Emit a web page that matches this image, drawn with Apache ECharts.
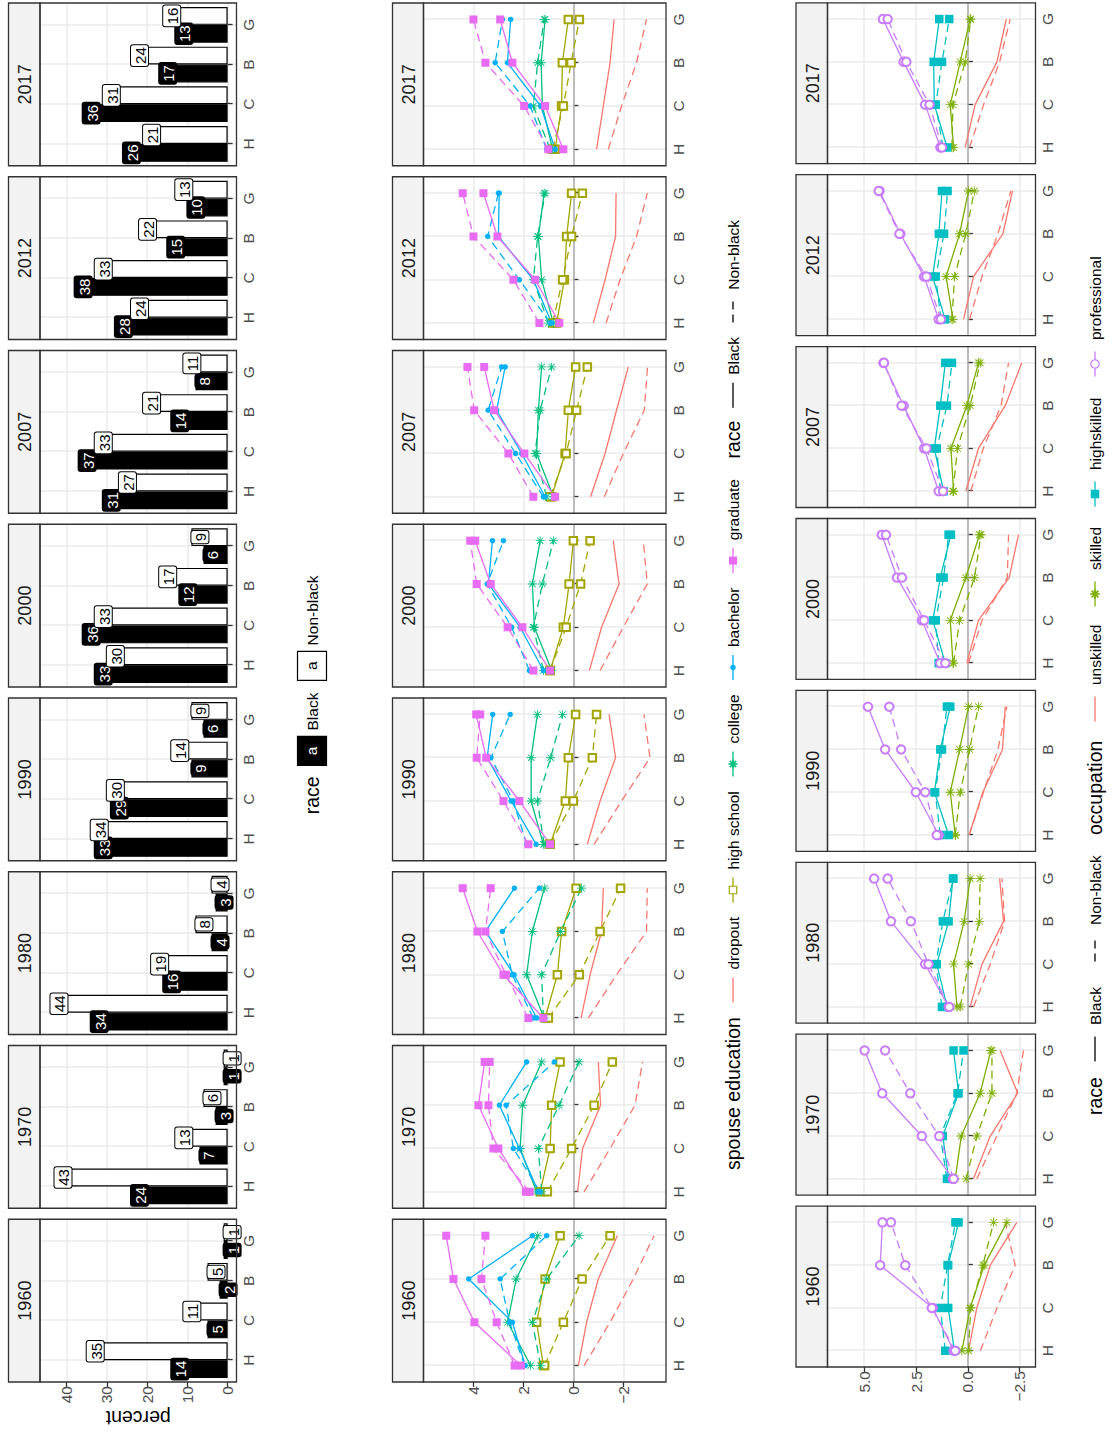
<!DOCTYPE html>
<html>
<head>
<meta charset="utf-8">
<script src="https://cdn.jsdelivr.net/npm/echarts@6/dist/echarts.min.js"></script>
<style>
  html, body { margin: 0; padding: 0; background: #ffffff; overflow: hidden; }
  #page { position: absolute; left: 0; top: 0; width: 1116px; height: 1438px; overflow: hidden; background: #ffffff; }
  /* the figure is laid out landscape and turned a quarter turn counter-clockwise */
  #chart { position: absolute; left: 0; top: 0; width: 1438px; height: 1116px;
           transform-origin: 0 0; transform: translate(0, 1438px) rotate(-90deg); }
</style>
</head>
<body>
<div id="page"><div id="chart"></div></div>
<script>
// ---------------------------------------------------------------- data
const years = ['1960', '1970', '1980', '1990', '2000', '2007', '2012', '2017'];
const categories = ['H', 'C', 'B', 'G'];
const raceNames = ['Black', 'Non-black'];

// spouse education shares in percent, one row per year, columns H C B G
const shareBlack = [
  [14, 5, 2, 1], [24, 7, 3, 1], [34, 16, 4, 3], [33, 29, 9, 6],
  [33, 36, 12, 6], [31, 37, 14, 8], [28, 38, 15, 10], [26, 36, 17, 13]
];
const shareNonBlack = [
  [35, 11, 5, 1], [43, 13, 6, 1], [44, 19, 8, 4], [34, 30, 14, 9],
  [30, 33, 17, 9], [27, 33, 21, 11], [24, 33, 22, 13], [21, 31, 24, 16]
];

// spouse education effects, one row per year, columns H C B G
const eduLevels = ['dropout', 'high school', 'college', 'bachelor', 'graduate'];
const eduDropoutBlack = [
  [-0.20, -0.53, -1.00, -1.76], [-0.17, -0.37, -1.09, -1.00], [-0.31, -0.67, -1.13, -1.20], [-0.56, -1.07, -1.69, -1.43],
  [-0.64, -1.13, -1.83, -1.60], [-0.69, -1.27, -1.73, -2.20], [-0.80, -1.27, -1.69, -1.71], [-0.93, -1.20, -1.47, -1.63]
];
const eduDropoutNonBlack = [
  [-0.43, -1.47, -2.40, -3.23], [-0.43, -1.47, -2.47, -2.77], [-0.60, -1.73, -2.93, -2.96], [-0.83, -1.93, -3.07, -2.83],
  [-1.07, -2.00, -2.96, -2.80], [-1.24, -2.00, -2.84, -2.97], [-1.31, -1.87, -2.53, -2.96], [-1.40, -1.93, -2.53, -2.93]
];
const eduHighSchoolBlack = [
  [1.20, 1.47, 1.13, 0.53], [1.33, 0.93, 0.87, 0.53], [1.13, 0.64, 0.47, -0.11], [0.93, 0.32, 0.20, -0.09],
  [0.93, 0.40, 0.17, 0.00], [0.87, 0.33, 0.20, -0.09], [0.67, 0.36, 0.27, 0.07], [0.73, 0.47, 0.44, 0.20]
];
const eduHighSchoolNonBlack = [
  [1.15, 0.40, -0.35, -1.47], [1.04, 0.07, -0.83, -1.56], [1.00, -0.24, -1.07, -1.89], [0.93, 0.00, -0.76, -0.93],
  [0.93, 0.29, -0.29, -0.67], [0.93, 0.29, -0.13, -0.56], [0.83, 0.43, 0.07, -0.36], [0.83, 0.40, 0.09, -0.24]
];
const eduCollegeBlack = [
  [1.71, 2.63, 2.29, 1.43], [1.47, 2.13, 2.03, 1.27], [1.17, 1.87, 1.64, 1.16], [1.20, 1.69, 1.69, 1.44],
  [0.87, 1.56, 1.64, 1.33], [0.80, 1.47, 1.40, 1.27], [0.80, 1.27, 1.40, 1.17], [0.83, 1.24, 1.29, 1.13]
];
const eduCollegeNonBlack = [
  [1.31, 1.64, 1.07, -0.23], [1.27, 1.40, 0.57, -0.23], [1.20, 1.27, 0.51, -0.33], [1.17, 1.44, 0.91, 0.43],
  [1.20, 1.60, 1.24, 0.80], [1.07, 1.53, 1.33, 0.87], [1.00, 1.60, 1.43, 1.13], [0.93, 1.60, 1.43, 1.17]
];
const eduBachelorBlack = [
  [1.93, 2.44, 4.19, 1.64], [1.40, 2.16, 2.96, 1.87], [1.47, 2.37, 3.52, 2.36], [1.49, 2.49, 3.45, 3.23],
  [1.20, 2.13, 3.40, 3.24], [1.13, 2.07, 3.07, 2.73], [0.87, 1.60, 3.00, 2.97], [0.73, 1.31, 2.64, 2.51]
];
const eduBachelorNonBlack = [
  [1.95, 2.55, 2.93, 1.07], [1.33, 2.40, 2.69, 0.76], [1.60, 2.45, 2.84, 1.36], [1.87, 2.40, 3.30, 2.53],
  [1.76, 2.47, 3.45, 2.80], [1.20, 2.31, 3.41, 2.87], [0.93, 2.16, 3.43, 3.00], [1.07, 1.73, 3.13, 2.84]
];
const eduGraduateBlack = [
  [2.10, 3.96, 4.80, 5.09], [1.90, 3.00, 3.80, 3.55], [1.20, 2.80, 3.84, 4.43], [0.93, 2.16, 3.49, 3.89],
  [0.93, 2.04, 3.31, 3.93], [0.73, 1.96, 3.17, 3.57], [0.56, 1.53, 3.04, 3.60], [0.40, 1.13, 2.44, 2.93]
];
const eduGraduateNonBlack = [
  [2.35, 3.07, 3.68, 3.52], [1.75, 3.20, 3.40, 3.35], [1.80, 2.70, 3.52, 3.31], [1.80, 2.80, 3.87, 3.73],
  [1.60, 2.63, 3.87, 4.13], [1.60, 2.60, 3.97, 4.24], [1.36, 2.40, 4.00, 4.43], [1.00, 1.97, 3.52, 4.00]
];

// occupation effects, one row per year, columns H C B G
const occLevels = ['unskilled', 'skilled', 'highskilled', 'professional'];
const occUnskilledBlack = [
  [-0.03, -0.43, -1.08, -2.36], [-0.27, -1.08, -2.40, -1.56], [-0.11, -0.68, -1.72, -1.53], [-0.06, -0.72, -1.67, -1.80],
  [0.05, -0.51, -1.99, -2.44], [0.10, -0.51, -1.80, -2.60], [0.21, -0.27, -1.69, -2.15], [0.13, -0.35, -1.40, -1.85]
];
const occUnskilledNonBlack = [
  [-0.60, -1.40, -2.28, -1.80], [-0.43, -1.40, -2.36, -2.68], [-0.27, -1.08, -1.77, -1.64], [-0.06, -0.75, -1.45, -1.88],
  [-0.03, -0.68, -1.90, -1.96], [-0.14, -0.74, -1.60, -1.96], [-0.08, -0.68, -1.45, -2.07], [-0.08, -0.76, -1.53, -2.04]
];
const occSkilledBlack = [
  [0.29, -0.11, -0.79, -1.88], [0.61, 0.32, -0.59, -1.11], [0.53, 0.69, 0.18, -0.11], [0.61, 0.85, 0.40, -0.03],
  [0.72, 0.85, 0.10, -0.56], [0.69, 0.82, 0.05, -0.51], [0.72, 1.05, 0.40, -0.03], [0.69, 0.85, 0.37, -0.11]
];
const occSkilledNonBlack = [
  [-0.03, -0.14, -0.72, -1.24], [0.08, -0.43, -1.16, -1.16], [0.37, -0.03, -0.55, -0.59], [0.61, 0.37, -0.08, -0.51],
  [0.69, 0.40, -0.32, -0.63], [0.72, 0.50, -0.11, -0.59], [0.77, 0.64, 0.10, -0.31], [0.77, 0.72, 0.13, -0.14]
];
const occHighskilledBlack = [
  [0.65, 0.95, 0.95, 0.45], [0.93, 1.21, 0.45, 0.69], [1.00, 1.50, 0.93, 0.72], [0.93, 1.61, 1.33, 0.85],
  [1.09, 1.69, 1.33, 0.82], [1.17, 1.62, 1.33, 1.09], [1.10, 1.70, 1.40, 1.25], [1.00, 1.62, 1.65, 1.38]
];
const occHighskilledNonBlack = [
  [1.09, 1.33, 0.98, 0.60], [1.01, 1.33, 0.50, 0.21], [1.25, 1.54, 1.21, 0.70], [1.33, 1.58, 1.25, 1.01],
  [1.41, 1.55, 1.17, 0.93], [1.33, 1.50, 1.01, 0.77], [1.30, 1.55, 1.15, 0.98], [1.20, 1.55, 1.25, 0.90]
];
const occProfessionalBlack = [
  [0.69, 1.69, 4.23, 4.12], [0.72, 2.22, 4.13, 4.98], [0.93, 2.06, 3.71, 4.52], [1.41, 2.51, 3.99, 4.82],
  [1.33, 2.22, 3.42, 4.15], [1.41, 2.11, 3.10, 4.07], [1.41, 2.11, 3.26, 4.26], [1.33, 2.06, 3.10, 4.10]
];
const occProfessionalNonBlack = [
  [0.61, 1.74, 3.02, 3.71], [0.69, 1.38, 2.78, 3.99], [0.90, 1.90, 2.75, 3.87], [1.50, 2.06, 3.22, 3.79],
  [1.09, 2.11, 3.18, 3.95], [1.20, 2.00, 3.20, 4.05], [1.30, 2.00, 3.30, 4.30], [1.25, 1.85, 2.97, 3.87]
];

// tick labels of the value axes
const pctTicks = [0, 10, 20, 30, 40];
const eduTicks = [-2, 0, 2, 4];
const occTicks = [-2.5, 0, 2.5, 5];

// ---------------------------------------------------------------- styling
const FONT = '"Liberation Sans", Arial, Helvetica, sans-serif';
// asterisk marker (plus and cross) built from four thin bars
const ASTERISK = 'M-1,-0.09L1,-0.09L1,0.09L-1,0.09Z' +
  'M-0.09,-1L0.09,-1L0.09,1L-0.09,1Z' +
  'M-0.77,-0.64L-0.64,-0.77L0.77,0.64L0.64,0.77Z' +
  'M-0.64,0.77L-0.77,0.64L0.64,-0.77L0.77,-0.64Z';

const eduSeriesData = [
  [eduDropoutBlack, eduDropoutNonBlack],
  [eduHighSchoolBlack, eduHighSchoolNonBlack],
  [eduCollegeBlack, eduCollegeNonBlack],
  [eduBachelorBlack, eduBachelorNonBlack],
  [eduGraduateBlack, eduGraduateNonBlack]
];
const eduMarks = [
  { color: '#F8766D', symbol: 'none', size: 0 },
  { color: '#A3A500', symbol: 'emptyRect', size: 7.5 },
  { color: '#00BF7D', symbol: 'asterisk', size: 9 },
  { color: '#00B0F6', symbol: 'circle', size: 5.5 },
  { color: '#E76BF3', symbol: 'rect', size: 8 }
];
const occSeriesData = [
  [occUnskilledBlack, occUnskilledNonBlack],
  [occSkilledBlack, occSkilledNonBlack],
  [occHighskilledBlack, occHighskilledNonBlack],
  [occProfessionalBlack, occProfessionalNonBlack]
];
const occMarks = [
  { color: '#F8766D', symbol: 'none', size: 0 },
  { color: '#7CAE00', symbol: 'asterisk', size: 9.5 },
  { color: '#00BFC4', symbol: 'rect', size: 8.5 },
  { color: '#C77CFF', symbol: 'emptyCircle', size: 8.5 }
];
const DASH = [8, 5];

// panel geometry of the three facet rows (landscape pixel coordinates)
const rowsLayout = [
  { stripTop: 8.5, top: 40, bottom: 236.5, left: 56, pitch: 173.75, width: 162.75, x: [0.45, 4.55], y: [-2.2, 46.6] },
  { stripTop: 392.5, top: 423.5, bottom: 666, left: 56, pitch: 173.75, width: 162.75, x: [0.62, 4.38], y: [-3.71, 6.0] },
  { stripTop: 796, top: 827.5, bottom: 1035.5, left: 71, pitch: 171.9, width: 160.9, x: [0.62, 4.38], y: [-3.26, 6.77] }
];

const minus = s => s.replace('-', '\u2212');
const fmtPct = v => String(v);
const fmtEdu = v => minus(String(v));
const fmtOcc = v => minus(v.toFixed(1));

const grids = [], xAxes = [], yAxes = [], series = [], graphics = [];

function text(x, y, str, size, color, align) {
  graphics.push({
    type: 'text', x: x, y: y, z: 110, silent: true,
    style: { text: str, fill: color || '#000000', fontSize: size, fontFamily: FONT,
             align: align || 'left', textAlign: align || 'left',
             verticalAlign: 'middle', textVerticalAlign: 'middle' }
  });
}

function addPanel(r, i, ticks, fmt, yName) {
  const L = rowsLayout[r];
  const left = L.left + i * L.pitch;
  const h = L.bottom - L.top;
  const g = grids.length;
  grids.push({ left: left, top: L.top, width: L.width, height: h, show: true,
               backgroundColor: '#ffffff', borderWidth: 0 });
  xAxes.push({
    gridIndex: g, type: 'value', min: L.x[0], max: L.x[1],
    axisLine: { show: false },
    axisTick: { show: true, length: 5, lineStyle: { color: '#333333', width: 1.3 }, customValues: [1, 2, 3, 4] },
    axisLabel: { show: true, customValues: [1, 2, 3, 4], formatter: v => categories[Math.round(v) - 1],
                 color: '#4D4D4D', fontSize: 15.5, fontFamily: FONT, margin: 4 },
    splitLine: { show: true, lineStyle: { color: '#EBEBEB', width: 1.5 } }
  });
  yAxes.push({
    gridIndex: g, type: 'value', min: L.y[0], max: L.y[1],
    axisLine: { show: false },
    axisTick: { show: i === 0, length: 5, lineStyle: { color: '#333333', width: 1.3 }, customValues: ticks },
    axisLabel: { show: i === 0, customValues: ticks, formatter: fmt,
                 color: '#4D4D4D', fontSize: 15.5, fontFamily: FONT, margin: 4 },
    splitLine: { show: true, lineStyle: { color: '#EBEBEB', width: 1.5 } },
    name: (i === 0 && yName) ? yName : '',
    nameLocation: 'middle', nameGap: 26, nameRotate: 90,
    nameTextStyle: { color: '#000000', fontSize: 19.5, fontFamily: FONT }
  });
  // facet strip
  graphics.push({ type: 'rect', z: 100, silent: true,
    shape: { x: left, y: L.stripTop, width: L.width, height: L.top - L.stripTop },
    style: { fill: '#F2F2F2', stroke: '#333333', lineWidth: 1.3 } });
  text(left + L.width / 2, (L.stripTop + L.top) / 2 + 1, years[i], 18, '#1A1A1A', 'center');
  // panel frame
  graphics.push({ type: 'rect', z: 100, silent: true,
    shape: { x: left, y: L.top, width: L.width, height: h },
    style: { fill: 'none', stroke: '#333333', lineWidth: 1.3 } });
  return g;
}

function markSymbol(m) {
  return m.symbol === 'asterisk' ? 'path://' + ASTERISK : m.symbol;
}

// ---------------------------------------------------------------- row 1: bars
years.forEach((y, i) => {
  const g = addPanel(0, i, pctTicks, fmtPct, 'percent');
  [shareBlack, shareNonBlack].forEach((arr, r) => {
    const fill = r === 0 ? '#000000' : '#ffffff';
    const ink = r === 0 ? '#ffffff' : '#000000';
    series.push({
      type: 'bar', name: raceNames[r], xAxisIndex: g, yAxisIndex: g,
      barWidth: '45%', barGap: '0%',
      data: categories.map((c, k) => [k + 1, arr[i][k]]),
      itemStyle: { color: fill, borderColor: '#000000', borderWidth: 1.2 },
      label: { show: true, position: 'insideTop', distance: 0,
               formatter: p => String(p.value[1]),
               color: ink, fontSize: 15, fontFamily: FONT,
               backgroundColor: fill, borderColor: '#000000', borderWidth: 1, borderRadius: 2,
               padding: [2, 2, 0, 2] }
    });
  });
});

// ---------------------------------------------------------------- rows 2 and 3: lines
function lineRow(rowIdx, ticks, fmt, dataSets, marks) {
  years.forEach((y, i) => {
    const g = addPanel(rowIdx, i, ticks, fmt, '');
    // reference line at zero
    series.push({
      type: 'line', xAxisIndex: g, yAxisIndex: g, z: 1, silent: true,
      data: [[1, 0]], symbol: 'none', lineStyle: { width: 0, opacity: 0 },
      markLine: { silent: true, symbol: 'none', z: 1, animation: false,
                  label: { show: false },
                  lineStyle: { color: '#ABABAB', width: 1.5, type: 'solid' },
                  data: [{ yAxis: 0 }] }
    });
    dataSets.forEach((pair, lv) => {
      const m = marks[lv];
      pair.forEach((arr, r) => {
        const empty = m.symbol.indexOf('empty') === 0;
        series.push({
          type: 'line', xAxisIndex: g, yAxisIndex: g, z: 3,
          data: categories.map((c, k) => [k + 1, arr[i][k]]),
          symbol: markSymbol(m), symbolSize: m.size, showSymbol: m.symbol !== 'none',
          lineStyle: { color: m.color, width: 1.3, type: r === 0 ? 'solid' : DASH },
          itemStyle: { color: m.color, borderColor: m.color, borderWidth: empty ? 1.2 : 0 }
        });
      });
    });
  });
}
lineRow(1, eduTicks, fmtEdu, eduSeriesData, eduMarks);
lineRow(2, occTicks, fmtOcc, occSeriesData, occMarks);

// ---------------------------------------------------------------- legends
function segment(x1, y1, x2, y2, color, width, dash) {
  graphics.push({ type: 'line', z: 111, silent: true,
    shape: { x1: x1, y1: y1, x2: x2, y2: y2 },
    style: { stroke: color, lineWidth: width, lineDash: dash || null } });
}
function keyLine(cx, cy, color, dashed) {
  segment(cx - 12.5, cy, cx + 12.5, cy, color, 1.3, dashed ? DASH : null);
}
function keySymbol(cx, cy, m) {
  const s = m.size;
  if (m.symbol === 'rect') {
    graphics.push({ type: 'rect', z: 111, silent: true,
      shape: { x: cx - s / 2, y: cy - s / 2, width: s, height: s }, style: { fill: m.color } });
  } else if (m.symbol === 'emptyRect') {
    graphics.push({ type: 'rect', z: 111, silent: true,
      shape: { x: cx - s / 2, y: cy - s / 2, width: s, height: s },
      style: { fill: '#ffffff', stroke: m.color, lineWidth: 1.2 } });
  } else if (m.symbol === 'circle') {
    graphics.push({ type: 'circle', z: 111, silent: true,
      shape: { cx: cx, cy: cy, r: s / 2 }, style: { fill: m.color } });
  } else if (m.symbol === 'emptyCircle') {
    graphics.push({ type: 'circle', z: 111, silent: true,
      shape: { cx: cx, cy: cy, r: s / 2 }, style: { fill: '#ffffff', stroke: m.color, lineWidth: 1.2 } });
  } else if (m.symbol === 'asterisk') {
    const h = s / 2, d = h * 0.707;
    segment(cx - h, cy, cx + h, cy, m.color, 1.6);
    segment(cx, cy - h, cx, cy + h, m.color, 1.6);
    segment(cx - d, cy - d, cx + d, cy + d, m.color, 1.6);
    segment(cx - d, cy + d, cx + d, cy - d, m.color, 1.6);
  }
}

// row 1 legend: race with label keys
const leg1Y = 312;
text(623.7, leg1Y, 'race', 19.5);
[[687.1, 707.5], [772.2, 792.6]].forEach((pos, r) => {
  const fill = r === 0 ? '#000000' : '#ffffff';
  const ink = r === 0 ? '#ffffff' : '#000000';
  graphics.push({ type: 'rect', z: 110, silent: true,
    shape: { x: pos[0] - 14.5, y: leg1Y - 14.5, width: 29, height: 29 },
    style: { fill: fill, stroke: '#000000', lineWidth: 1.2 } });
  text(pos[0], leg1Y - 1, 'a', 15.5, ink, 'center');
  text(pos[1], leg1Y, raceNames[r], 15.5);
});

// row 2 legend: spouse education, then race
const leg2Y = 733;
text(268, leg2Y, 'spouse education', 19.5);
[448.1, 548, 674.1, 770.5, 877.4].forEach((cx, lv) => {
  keyLine(cx, leg2Y, eduMarks[lv].color, false);
  keySymbol(cx, leg2Y, eduMarks[lv]);
  text(cx + 20.4, leg2Y, eduLevels[lv], 15.5);
});
text(979.4, leg2Y, 'race', 19.5);
[1042.8, 1127.9].forEach((cx, r) => {
  keyLine(cx, leg2Y, '#000000', r === 1);
  text(cx + 20.4, leg2Y, raceNames[r], 15.5);
});

// row 3 legend: race, then occupation
const leg3Y = 1095;
text(323, leg3Y, 'race', 19.5);
[389, 489].forEach((cx, r) => {
  keyLine(cx, leg3Y, '#000000', r === 1);
  text(cx + 24, leg3Y, raceNames[r], 15.5);
});
text(603, leg3Y, 'occupation', 19.5);
[729, 844, 944, 1074].forEach((cx, lv) => {
  keyLine(cx, leg3Y, occMarks[lv].color, false);
  keySymbol(cx, leg3Y, occMarks[lv]);
  text(cx + 24, leg3Y, occLevels[lv], 15.5);
});

// ---------------------------------------------------------------- render
const chart = echarts.init(document.getElementById('chart'), null, { renderer: 'svg', width: 1438, height: 1116 });
chart.setOption({
  backgroundColor: '#ffffff',
  animation: false,
  textStyle: { fontFamily: FONT },
  grid: grids,
  xAxis: xAxes,
  yAxis: yAxes,
  series: series,
  graphic: { elements: graphics }
});
</script>
</body>
</html>
